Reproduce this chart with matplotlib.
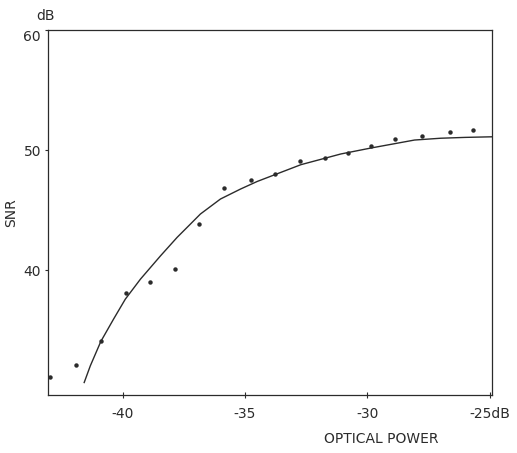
import matplotlib

matplotlib.use("Agg")

import matplotlib.pyplot as plt

INK = "#2b2b2b"

# measured points (optical power dB, SNR dB)
POWER_PTS = [-42.96, -41.9, -40.89, -39.88, -38.88, -37.84, -36.86, -35.87, -34.74,
             -33.78, -32.75, -31.73, -30.8, -29.84, -28.88, -27.77, -26.6, -25.66]
SNR_PTS = [31.1, 32.1, 34.1, 38.06, 39.0, 40.1, 43.85, 46.86, 47.5,
           47.97, 49.06, 49.3, 49.75, 50.36, 50.94, 51.14, 51.48, 51.67]

# fitted curve
POWER_FIT = [-41.57, -41.32, -40.89, -40.37, -39.89, -39.27, -38.45, -37.77, -37.23,
             -36.82, -36.0, -35.18, -34.5, -33.81, -32.71, -31.08, -29.84, -28.9,
             -28.07, -27.0, -26.0, -24.9]
SNR_FIT = [30.64, 32.03, 34.06, 35.92, 37.58, 39.25, 41.19, 42.73, 43.83,
           44.67, 45.92, 46.75, 47.38, 47.92, 48.78, 49.67, 50.17, 50.52,
           50.83, 50.98, 51.05, 51.1]

X_TICKS = [-40, -35, -30, -25]
X_LABELS = ["-40", "-35", "-30", "-25dB"]
Y_TICKS = [40, 50, 60]
Y_LABELS = ["40", "50", "60"]

fig = plt.figure(figsize=(5.17, 4.53), dpi=100, facecolor="white")
ax = fig.add_axes([0.0928, 0.128, 0.859, 0.806])

ax.plot(POWER_FIT, SNR_FIT, color=INK, lw=1.0)
ax.plot(POWER_PTS, SNR_PTS, "o", color=INK, ms=3.2, mec="none")

ax.set_xlim(-43.05, -24.9)
ax.set_ylim(29.6, 60)
ax.set_xticks(X_TICKS)
ax.set_xticklabels(X_LABELS)
ax.set_yticks(Y_TICKS)
ax.set_yticklabels(Y_LABELS)
ax.get_yticklabels()[-1].set_verticalalignment("top")

for s in ax.spines.values():
    s.set_color(INK)
    s.set_linewidth(0.9)

ax.tick_params(axis="x", direction="inout", length=5, width=0.8, color=INK,
               labelsize=10, labelcolor=INK, pad=6)
ax.tick_params(axis="y", direction="out", length=2, width=0.8, color=INK,
               labelsize=10, labelcolor=INK, pad=3)

ax.text(-0.005, 1.02, "dB", transform=ax.transAxes, ha="center", va="bottom",
        fontsize=10, color=INK)
ax.set_ylabel("SNR", fontsize=10, color=INK, labelpad=4)
ax.set_xlabel("OPTICAL POWER", fontsize=10, color=INK)
ax.xaxis.set_label_coords(0.75, -0.1)

fig.savefig("out.png", dpi=100, facecolor="white")
